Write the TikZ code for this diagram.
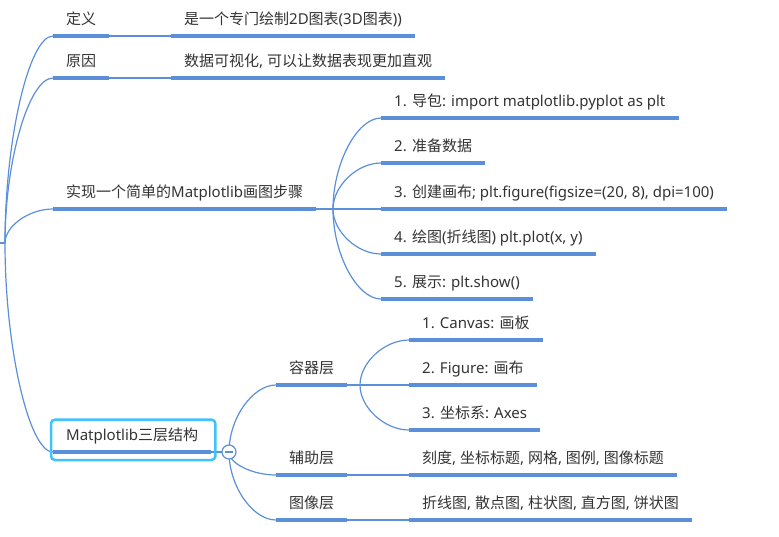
\documentclass[tikz,border=0pt]{standalone}
\usepackage{fontspec}
\setmainfont{Noto Sans}
\newfontfamily\cjk{Noto Sans CJK SC}
% switch to the CJK face for every ideograph
\XeTeXinterchartokenstate=1
\newXeTeXintercharclass\CJKclass
\newcount\cjkcode
\cjkcode="4E00
\loop
  \XeTeXcharclass\cjkcode=\CJKclass
  \ifnum\cjkcode<"9FFF \advance\cjkcode by 1
\repeat
\XeTeXinterchartoks 0 \CJKclass = {\begingroup\cjk}
\XeTeXinterchartoks 4095 \CJKclass = {\begingroup\cjk}
\XeTeXinterchartoks \CJKclass 0 = {\endgroup}
\XeTeXinterchartoks \CJKclass 4095 = {\endgroup}
\usepackage{xcolor}
\usepackage{tikz}
\usetikzlibrary{positioning, calc}
\definecolor{MInk}{HTML}{333333}
\definecolor{MBlue}{HTML}{5B8FD9}
\definecolor{MCyan}{HTML}{3FC3FF}

\begin{document}
\begin{tikzpicture}[
  x=1pt, y=-1pt,
  font=\fontsize{15}{18}\selectfont,
  uline/.style={draw=MBlue, line width=4pt},
  topic/.style={anchor=south west, text=MInk, inner xsep=13pt,
                inner ysep=7.5pt, text height=12pt, text depth=4pt,
                append after command={(\tikzlastnode.south west)
                  edge[uline] (\tikzlastnode.south east)}},
  link/.style={draw=MBlue, line width=1.2pt},
  sel/.style={draw=MCyan, line width=2.5pt, rounded corners=4pt},
  fold/.style={circle, draw=MBlue, line width=1.2pt, fill=white,
               minimum size=14pt, inner sep=0pt},
]
\useasboundingbox (0,0) rectangle (779,536);

% ── first level ──────────────────────────────────────────────────────────
\coordinate (rootin) at (0,243);
\coordinate (root)   at (5,243);
\node[topic] (def)   at (53,36)  {定义};
\node[topic] (why)   at (53,78)  {原因};
\node[topic] (howto) at (53,209) {实现一个简单的Matplotlib画图步骤};
\node[topic] (arch)  at (53,452) {Matplotlib三层结构};

\draw[link, line width=2pt] (rootin) -- (root);
\foreach \n in {def, why, howto, arch}
  \draw[link] (root)
    .. controls ($(root)!.5!(root |- \n.south west)$)
            and ($(\n.south west)!.5!(root |- \n.south west)$)
    .. (\n.south west);

% ── definition and reason ────────────────────────────────────────────────
\node[topic] (defx) at (171,36) {是一个专门绘制2D图表(3D图表))};
\node[topic] (whyx) at (171,78) {数据可视化, 可以让数据表现更加直观};
\draw[link] (def.south east) -- (defx.south west);
\draw[link] (why.south east) -- (whyx.south west);

% ── plotting steps ───────────────────────────────────────────────────────
\coordinate (howfork) at (333,209);
\node[topic] (s1) at (381,118) {1. 导包: import matplotlib.pyplot as plt};
\node[topic] (s2) at (381,163) {2. 准备数据};
\node[topic] (s3) at (381,209) {3. 创建画布; plt.figure(figsize=(20, 8), dpi=100)};
\node[topic] (s4) at (381,254) {4. 绘图(折线图) plt.plot(x, y)};
\node[topic] (s5) at (381,299) {5. 展示: plt.show()};

\draw[link] (howto.south east) -- (howfork);
\foreach \n in {s1, s2, s3, s4, s5}
  \draw[link] (howfork)
    .. controls ($(howfork)!.5!(howfork |- \n.south west)$)
            and ($(\n.south west)!.5!(howfork |- \n.south west)$)
    .. (\n.south west);

% ── three layers ─────────────────────────────────────────────────────────
\coordinate (archfork) at (229,452);
\node[topic] (cont) at (276,385) {容器层};
\node[topic] (aux)  at (276,475) {辅助层};
\node[topic] (img)  at (276,520) {图像层};

\draw[link] (arch.south east) -- (archfork);
\foreach \n in {cont, aux, img}
  \draw[link] (archfork)
    .. controls ($(archfork)!.5!(archfork |- \n.south west)$)
            and ($(\n.south west)!.5!(archfork |- \n.south west)$)
    .. (\n.south west);

\draw[sel] ([shift={(-2,8)}]arch.south west)
  rectangle ([shift={(4,-1)}]arch.north east);
\node[fold] (fold) at (archfork) {};
\draw[link] ([xshift=-4pt]fold.center) -- ([xshift=4pt]fold.center);

% ── layer contents ───────────────────────────────────────────────────────
\coordinate (contfork) at (360,385);
\node[topic] (c1) at (409,340) {1. Canvas: 画板};
\node[topic] (c2) at (409,385) {2. Figure: 画布};
\node[topic] (c3) at (409,430) {3. 坐标系: Axes};

\draw[link] (cont.south east) -- (contfork);
\foreach \n in {c1, c2, c3}
  \draw[link] (contfork)
    .. controls ($(contfork)!.5!(contfork |- \n.south west)$)
            and ($(\n.south west)!.5!(contfork |- \n.south west)$)
    .. (\n.south west);

\node[topic] (auxx) at (409,475) {刻度, 坐标标题, 网格, 图例, 图像标题};
\node[topic] (imgx) at (409,520) {折线图, 散点图, 柱状图, 直方图, 饼状图};
\draw[link] (aux.south east) -- (auxx.south west);
\draw[link] (img.south east) -- (imgx.south west);

\end{tikzpicture}
\end{document}
